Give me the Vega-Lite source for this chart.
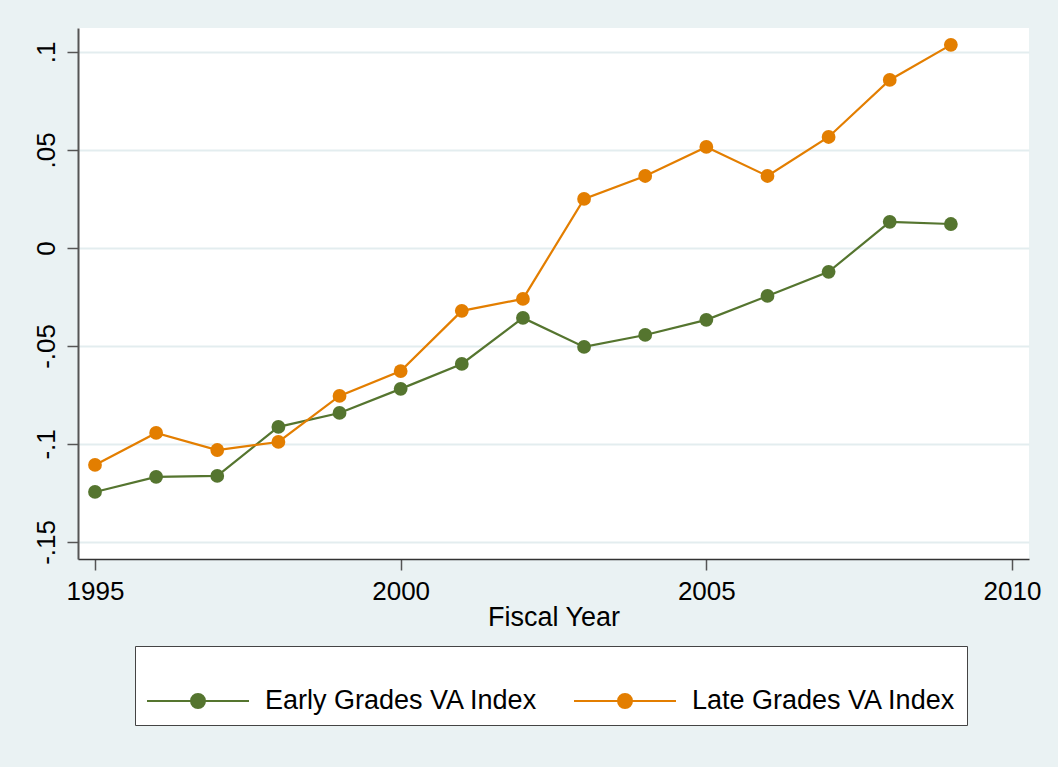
{
  "$schema": "https://vega.github.io/schema/vega-lite/v6.json",
  "width": 951,
  "height": 531,
  "autosize": "none",
  "padding": {"left": 78, "top": 28, "right": 29, "bottom": 208},
  "background": "#EAF2F3",
  "config": {
    "font": "Liberation Sans",
    "view": {"fill": "white", "stroke": null}
  },
  "data": {
    "values": [
      {"year": 1995, "series": "Early Grades VA Index", "v": -0.1245},
      {"year": 1996, "series": "Early Grades VA Index", "v": -0.1168},
      {"year": 1997, "series": "Early Grades VA Index", "v": -0.1163},
      {"year": 1998, "series": "Early Grades VA Index", "v": -0.0913},
      {"year": 1999, "series": "Early Grades VA Index", "v": -0.0842},
      {"year": 2000, "series": "Early Grades VA Index", "v": -0.0719},
      {"year": 2001, "series": "Early Grades VA Index", "v": -0.0592},
      {"year": 2002, "series": "Early Grades VA Index", "v": -0.0357},
      {"year": 2003, "series": "Early Grades VA Index", "v": -0.0505},
      {"year": 2004, "series": "Early Grades VA Index", "v": -0.0444},
      {"year": 2005, "series": "Early Grades VA Index", "v": -0.0367},
      {"year": 2006, "series": "Early Grades VA Index", "v": -0.0245},
      {"year": 2007, "series": "Early Grades VA Index", "v": -0.0122},
      {"year": 2008, "series": "Early Grades VA Index", "v": 0.0133},
      {"year": 2009, "series": "Early Grades VA Index", "v": 0.0122},
      {"year": 1995, "series": "Late Grades VA Index", "v": -0.1107},
      {"year": 1996, "series": "Late Grades VA Index", "v": -0.0944},
      {"year": 1997, "series": "Late Grades VA Index", "v": -0.1031},
      {"year": 1998, "series": "Late Grades VA Index", "v": -0.0990},
      {"year": 1999, "series": "Late Grades VA Index", "v": -0.0755},
      {"year": 2000, "series": "Late Grades VA Index", "v": -0.0628},
      {"year": 2001, "series": "Late Grades VA Index", "v": -0.0321},
      {"year": 2002, "series": "Late Grades VA Index", "v": -0.0260},
      {"year": 2003, "series": "Late Grades VA Index", "v": 0.0250},
      {"year": 2004, "series": "Late Grades VA Index", "v": 0.0367},
      {"year": 2005, "series": "Late Grades VA Index", "v": 0.0515},
      {"year": 2006, "series": "Late Grades VA Index", "v": 0.0367},
      {"year": 2007, "series": "Late Grades VA Index", "v": 0.0566},
      {"year": 2008, "series": "Late Grades VA Index", "v": 0.0857},
      {"year": 2009, "series": "Late Grades VA Index", "v": 0.1036}
    ]
  },
  "encoding": {
    "x": {
      "field": "year",
      "type": "quantitative",
      "scale": {"domain": [1994.722, 2010.278], "nice": false, "zero": false},
      "axis": {
        "title": "Fiscal Year",
        "values": [1995, 2000, 2005, 2010],
        "format": "d",
        "grid": false,
        "domainColor": "#333333",
        "domainWidth": 1.5,
        "tickColor": "#555555",
        "tickWidth": 1.5,
        "tickSize": 11,
        "labelFontSize": 26,
        "labelColor": "black",
        "labelPadding": 8,
        "labelFlush": false,
        "titleFontSize": 27,
        "titleFontWeight": "normal",
        "titleColor": "black",
        "titlePadding": 0
      }
    },
    "y": {
      "field": "v",
      "type": "quantitative",
      "scale": {"domain": [-0.1587, 0.1122], "nice": false, "zero": false},
      "axis": {
        "title": null,
        "values": [-0.15, -0.1, -0.05, 0, 0.05, 0.1],
        "labelExpr": "datum.value == 0 ? '0' : (datum.value < 0 ? '-' : '') + replace(format(abs(datum.value), '.2~f'), '0.', '.')",
        "labelAngle": -90,
        "labelAlign": "center",
        "labelBaseline": "bottom",
        "labelPadding": 8,
        "labelFontSize": 26,
        "labelColor": "black",
        "labelFlush": false,
        "grid": true,
        "gridColor": "#E3EDEF",
        "gridWidth": 2,
        "domainColor": "#555555",
        "domainWidth": 2,
        "tickColor": "#555555",
        "tickWidth": 1.5,
        "tickSize": 11
      }
    },
    "color": {
      "field": "series",
      "type": "nominal",
      "scale": {
        "domain": ["Early Grades VA Index", "Late Grades VA Index"],
        "range": ["#55752F", "#E37E00"]
      },
      "legend": {
        "title": " ",
        "titleFontSize": 15,
        "titlePadding": 6,
        "orient": "none",
        "legendX": 57,
        "legendY": 618,
        "direction": "horizontal",
        "columns": 2,
        "columnPadding": 32,
        "padding": 11,
        "fillColor": "white",
        "strokeColor": "#444444",
        "labelFontSize": 27,
        "labelColor": "black",
        "labelLimit": 0,
        "labelOffset": 44,
        "symbolOffset": 29,
        "symbolType": "M-2.318,0L2.318,0M-0.318,0A0.318,0.318,0,1,1,0.318,0A0.318,0.318,0,1,1,-0.318,0Z",
        "symbolSize": 1936,
        "symbolStrokeWidth": 2,
        "encode": {
          "symbols": {
            "update": {
              "stroke": {"scale": "color", "field": "value"},
              "fill": {"scale": "color", "field": "value"},
              "strokeWidth": {"value": 2},
              "opacity": {"value": 1}
            }
          }
        }
      }
    }
  },
  "layer": [
    {"mark": {"type": "line", "strokeWidth": 2.2}},
    {"mark": {"type": "point", "filled": true, "size": 190, "opacity": 1}}
  ]
}
